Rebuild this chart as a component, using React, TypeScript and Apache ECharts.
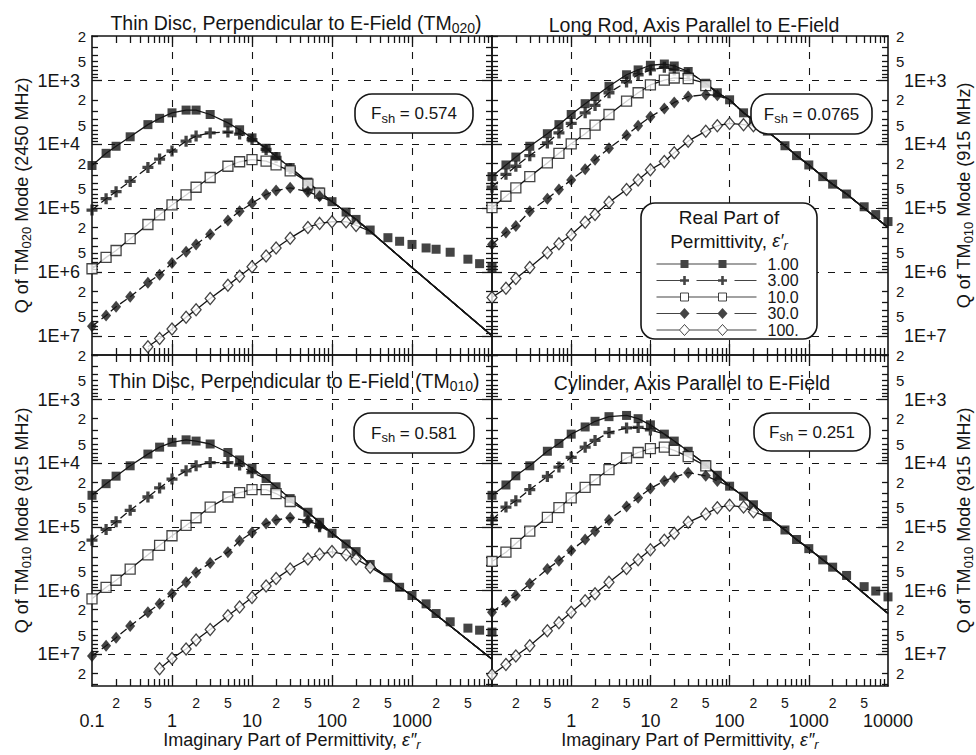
import { useEffect, useRef } from "react";
import * as echarts from "echarts";

const N = null;

// Imaginary part of permittivity (x values of the markers)
const epsImag = [0.1, 0.15, 0.2, 0.3, 0.5, 0.7, 1, 1.5, 2, 3, 5, 7, 10, 15, 20, 30, 50, 70, 100, 150, 200, 300, 500, 700, 1000, 1500, 2000, 3000, 5000, 7000, 10000];
const realPermittivity = ["1.00", "3.00", "10.0", "30.0", "100."];

// ---- Thin disc TM020 (top-left) ----
const tlQ1 = [2.14e4, 1.38e4, 1.07e4, 7.6e3, 4.9e3, 3.9e3, 3.2e3, 2.9e3, 2.9e3, 3.4e3, 4.6e3, 5.9e3, 7.9e3, 1.15e4, 1.55e4, 2.3e4, 3.9e4, 5.6e4, 7.9e4, 1.15e5, 1.5e5, 2.2e5, 2.9e5, 3.3e5, 3.7e5, 4.2e5, 4.4e5, 4.9e5, 6.3e5, 7.4e5, 8.5e5];
const tlQ3 = [1.07e5, 7.1e4, 5.5e4, 3.8e4, 2.3e4, 1.7e4, 1.27e4, 8.9e3, 7.4e3, 6.6e3, 6.4e3, 6.9e3, 8.4e3, 1.2e4, 1.6e4, 2.4e4, 5.0e4, 6.2e4];
const tlQ10 = [8.9e5, 5.9e5, 4.6e5, 3.0e5, 1.8e5, 1.27e5, 8.9e4, 6.2e4, 4.7e4, 3.3e4, 2.2e4, 1.87e4, 1.73e4, 1.83e4, 2.1e4, 2.6e4, 4.2e4, 5.8e4];
const tlQ30 = [7.1e6, 4.8e6, 3.5e6, 2.45e6, 1.47e6, 1.1e6, 7.2e5, 4.8e5, 3.7e5, 2.55e5, 1.56e5, 1.12e5, 8.4e4, 6.1e4, 5.3e4, 4.8e4, 5.5e4, 6.5e4];
const tlQ100 = [N, N, N, N, 1.48e7, 1.1e7, 7.8e6, 5.1e6, 3.9e6, 2.6e6, 1.62e6, 1.17e6, 8.3e5, 5.6e5, 4.2e5, 2.95e5, 2.0e5, 1.73e5, 1.63e5, 1.63e5, 1.86e5];
const tlTheory = [N, N, N, N, N, N, N, N, N, N, N, N, N, 1.15e4, 1.55e4, 2.3e4, 3.9e4, 5.6e4, 7.9e4, 1.15e5, 1.5e5, 2.3e5, N, N, 8.5e5, N, N, N, N, N, 1.0e7];
const tlOwnUntil = [20, 12, 15, 17, 20];

// ---- Long rod (top-right) ----
const trQ1 = [3.2e4, 2.1e4, 1.58e4, 1.07e4, 6.8e3, 4.9e3, 3.4e3, 2.3e3, 1.78e3, 1.23e3, 810, 680, 575, 550, 590, 720, 1.1e3, 1.55e3, 2.0e3, 3.2e3, 4.2e3, 6.2e3, 1.05e4, 1.5e4, 2.1e4, 3.2e4, 4.2e4, 6.0e4, 9.5e4, 1.26e5, 1.62e5];
const trQ3 = [4.7e4, 2.95e4, 2.2e4, 1.5e4, 9.5e3, 6.6e3, 4.7e3, 3.2e3, 2.45e3, 1.55e3, 1.05e3, 810, 680, 620, 680, 790];
const trQ10 = [9.8e4, 6.5e4, 4.8e4, 3.2e4, 1.95e4, 1.38e4, 9.8e3, 6.8e3, 5.0e3, 3.4e3, 2.1e3, 1.55e3, 1.17e3, 980, 910, 930, 1.2e3];
const trQ30 = [3.7e5, 2.4e5, 1.9e5, 1.12e5, 7.1e4, 5.1e4, 3.6e4, 2.45e4, 1.74e4, 1.15e4, 7.2e3, 5.1e3, 3.7e3, 2.75e3, 2.2e3, 1.78e3, 1.66e3, 1.7e3];
const trQ100 = [2.5e6, 1.8e6, 1.26e6, 8.5e5, 5.0e5, 3.6e5, 2.6e5, 1.66e5, 1.26e5, 8.1e4, 5.1e4, 3.6e4, 2.5e4, 1.86e4, 1.35e4, 8.9e3, 6.2e3, 5.1e3, 4.7e3, 4.9e3, 5.1e3];
const trTheory = [N, N, N, N, N, N, N, N, N, N, N, N, N, N, N, 720, 1.1e3, 1.55e3, 2.0e3, 3.2e3, 4.2e3, 6.2e3, 1.05e4, 1.5e4, 2.1e4, 3.2e4, 4.2e4, 6.0e4, N, N, 2.0e5];
const trOwnUntil = [27, 14, 15, 17, 20];

// ---- Thin disc TM010 (bottom-left) ----
const blQ1 = [3.2e4, 2.1e4, 1.6e4, 1.1e4, 7.2e3, 5.6e3, 4.7e3, 4.3e3, 4.5e3, 5.0e3, 6.8e3, 8.9e3, 1.2e4, 1.74e4, 2.35e4, 3.6e4, 5.9e4, 8.5e4, 1.26e5, 1.86e5, 2.45e5, 3.9e5, 6.3e5, 8.9e5, 1.2e6, 1.62e6, 2.3e6, 3.1e6, 3.9e6, 4.2e6, 4.5e6];
const blQ3 = [1.62e5, 1.1e5, 8.3e4, 5.5e4, 3.4e4, 2.45e4, 1.78e4, 1.32e4, 1.1e4, 9.8e3, 9.8e3, 1.07e4, 1.41e4, N, N, N, 8.3e4, 1.0e5];
const blQ10 = [1.35e6, 8.9e5, 6.9e5, 4.6e5, 2.75e5, 1.95e5, 1.38e5, 9.5e4, 7.2e4, 4.9e4, 3.4e4, 2.9e4, 2.6e4, 2.6e4, 3.0e4, 4.0e4];
const blQ30 = [1.07e7, 7.4e6, 5.5e6, 3.6e6, 2.2e6, 1.62e6, 1.12e6, 7.4e5, 5.2e5, 3.7e5, 2.5e5, 1.66e5, 1.23e5, 8.9e4, 7.8e4, 7.2e4, 8.0e4, 9.5e4];
const blQ100 = [N, N, N, N, N, 1.7e7, 1.17e7, 8.3e6, 6.0e6, 4.1e6, 2.5e6, 1.82e6, 1.29e6, 8.5e5, 6.5e5, 4.6e5, 3.2e5, 2.7e5, 2.45e5, 2.75e5, 3.2e5, 4.3e5];
const blTheory = [N, N, N, N, N, N, N, N, N, N, N, N, N, 1.74e4, 2.35e4, 3.6e4, 5.9e4, 8.5e4, 1.26e5, 1.86e5, 2.45e5, 3.9e5, 6.3e5, 8.9e5, 1.2e6, N, N, N, N, N, 1.2e7];
const blOwnUntil = [24, 12, 15, 17, 21];

// ---- Cylinder (bottom-right) ----
const brQ1 = [3.2e4, 2.2e4, 1.58e4, 1.1e4, 6.5e3, 4.9e3, 3.5e3, 2.7e3, 2.2e3, 1.86e3, 1.78e3, 2.0e3, 2.5e3, 3.5e3, 4.5e3, 6.5e3, 1.05e4, 1.55e4, 2.3e4, 3.3e4, 4.5e4, 6.9e4, 1.12e5, 1.58e5, 2.2e5, 3.3e5, 4.3e5, 5.8e5, 8.7e5, 1.02e6, 1.26e6];
const brQ3 = [7.8e4, 4.9e4, 3.9e4, 2.6e4, 1.62e4, 1.15e4, 8.1e3, 5.6e3, 4.4e3, 3.3e3, 2.8e3, 2.75e3, 3.0e3];
const brQ10 = [3.5e5, 2.5e5, 1.82e5, 1.17e5, 7.1e4, 5.0e4, 3.5e4, 2.4e4, 1.82e4, 1.26e4, 8.3e3, 6.8e3, 5.9e3, 5.6e3, 6.3e3, 7.9e3, 1.1e4];
const brQ30 = [2.2e6, 1.5e6, 1.2e6, 7.8e5, 4.6e5, 3.4e5, 2.35e5, 1.58e5, 1.17e5, 7.8e4, 4.8e4, 3.5e4, 2.5e4, 1.9e4, 1.66e4, 1.41e4, 1.58e4, 1.9e4];
const brQ100 = [2.1e7, 1.45e7, 1.07e7, 7.4e6, 4.3e6, 3.2e6, 2.2e6, 1.45e6, 1.12e6, 7.4e5, 4.5e5, 3.3e5, 2.3e5, 1.62e5, 1.26e5, 8.5e4, 6.3e4, 5.0e4, 4.6e4, 4.9e4, 5.8e4];
const brTheory = [N, N, N, N, N, N, N, N, N, N, N, N, N, 3.5e3, 4.5e3, 6.5e3, 1.05e4, 1.55e4, 2.3e4, 3.3e4, 4.5e4, 6.9e4, 1.12e5, 1.58e5, 2.2e5, 3.3e5, 4.3e5, N, N, N, 2.3e6];
const brOwnUntil = [26, 12, 16, 17, 20];

// texts
const panelTitles = [
  { text: "Thin Disc, Perpendicular to E-Field (TM", sub: "020", tail: ")" },
  { text: "Long Rod, Axis Parallel to E-Field", sub: "", tail: "" },
  { text: "Thin Disc, Perpendicular to E-Field (TM", sub: "010", tail: ")" },
  { text: "Cylinder, Axis Parallel to E-Field", sub: "", tail: "" },
];
const shapeFactors = ["0.574", "0.0765", "0.581", "0.251"];
const yNames = [
  { mode: "020", freq: "2450 MHz" },
  { mode: "010", freq: "915 MHz" },
  { mode: "010", freq: "915 MHz" },
  { mode: "010", freq: "915 MHz" },
];
const xName = "Imaginary Part of Permittivity, ";
const legendTitle = ["Real Part of", "Permittivity, "];

// tick definitions (decade exponents and multipliers)
const xExponents = [-1, 0, 1, 2, 3, 4];
const yExponents = [2, 3, 4, 5, 6, 7];
const minorMultipliers = [2, 3, 4, 5, 6, 7, 8, 9];
const labelMultipliers = [2, 5];

const INK = "#151515";
const FONT = '"Liberation Sans", Arial, Helvetica, sans-serif';

const panels = [
  { markers: [tlQ1, tlQ3, tlQ10, tlQ30, tlQ100], theory: tlTheory, own: tlOwnUntil },
  { markers: [trQ1, trQ3, trQ10, trQ30, trQ100], theory: trTheory, own: trOwnUntil },
  { markers: [blQ1, blQ3, blQ10, blQ30, blQ100], theory: blTheory, own: blOwnUntil },
  { markers: [brQ1, brQ3, brQ10, brQ30, brQ100], theory: brTheory, own: brOwnUntil },
];

const gridRects = [
  { left: 92, top: 36, width: 400, height: 319 },
  { left: 492, top: 36, width: 400, height: 319 },
  { left: 92, top: 355, width: 400, height: 331 },
  { left: 492, top: 355, width: 400, height: 331 },
];
const LOG2 = Math.log10(2);
const yMinAll = 2 + LOG2;
const yMaxTop = 7 + LOG2;
const yMaxBottom = 7.5;

const markerStyles: any[] = [
  { symbol: "rect", symbolSize: 9, itemStyle: { color: INK, borderWidth: 0 } },
  { symbol: "path://M3.5 0H6.5V3.5H10V6.5H6.5V10H3.5V6.5H0V3.5H3.5Z", symbolSize: 11, itemStyle: { color: INK, borderWidth: 0 } },
  { symbol: "rect", symbolSize: 10, itemStyle: { color: "#fff", borderColor: INK, borderWidth: 1.3 } },
  { symbol: "diamond", symbolSize: [10, 12], itemStyle: { color: INK, borderWidth: 0 } },
  { symbol: "diamond", symbolSize: [10, 12], itemStyle: { color: "#fff", borderColor: INK, borderWidth: 1.3 } },
];

const legendIcons = [
  "path://M0 0L0 0M0 5.5H100V6.5H0ZM24 2H32V10H24ZM62 2H70V10H62ZM100 12L100 12",
  "path://M0 0L0 0M0 5.5H28V6.5H0ZM40 5.5H66V6.5H40ZM78 5.5H100V6.5H78ZM26.7 1.5H29.3V4.7H32.5V7.3H29.3V10.5H26.7V7.3H23.5V4.7H26.7ZM64.7 1.5H67.3V4.7H70.5V7.3H67.3V10.5H64.7V7.3H61.5V4.7H64.7ZM100 12L100 12",
  "path://M0 0L0 0M0 6H24M32 6H62M70 6H100M24 2H32V10H24ZM62 2H70V10H62ZM100 12L100 12",
  "path://M0 0L0 0M0 5.5H28V6.5H0ZM40 5.5H66V6.5H40ZM78 5.5H100V6.5H78ZM28 0.5L33 6L28 11.5L23 6ZM66 0.5L71 6L66 11.5L61 6ZM100 12L100 12",
  "path://M0 0L0 0M0 6H23M33 6H61M71 6H100M28 0.5L33 6L28 11.5L23 6ZM66 0.5L71 6L66 11.5L61 6ZM100 12L100 12",
];

const richText: any = {
  a: { fontSize: 18, lineHeight: 22, fontFamily: FONT, color: INK },
  t: { fontSize: 19.5, lineHeight: 24, fontFamily: FONT, color: INK },
  s: { fontSize: 13, lineHeight: 12, verticalAlign: "bottom", fontFamily: FONT, color: INK },
  ts: { fontSize: 14, lineHeight: 12, verticalAlign: "bottom", fontFamily: FONT, color: INK },
  e: { fontSize: 18, lineHeight: 22, fontFamily: FONT, color: INK, fontStyle: "italic" },
  r: { fontSize: 13, lineHeight: 12, verticalAlign: "bottom", fontFamily: FONT, color: INK, fontStyle: "italic" },
  f: { fontSize: 17, lineHeight: 22, fontFamily: FONT, color: INK },
  l: { fontSize: 19, lineHeight: 22, fontFamily: FONT, color: INK },
};

function toPoints(arr: (number | null)[]) {
  const out: number[][] = [];
  arr.forEach((q, i) => {
    if (q != null) out.push([Math.log10(epsImag[i]), Math.log10(q)]);
  });
  return out;
}

function theoryLine(markers: (number | null)[], theory: (number | null)[], ownUntil: number) {
  const out: number[][] = [];
  epsImag.forEach((e, i) => {
    const q = i <= ownUntil ? markers[i] : theory[i];
    if (q != null && q !== undefined) out.push([Math.log10(e), Math.log10(q)]);
  });
  return out;
}

const minorX = xExponents.slice(0, -1).flatMap((e) => minorMultipliers.map((m) => e + Math.log10(m)));
const minorXLabels = xExponents.slice(0, -1).flatMap((e) => labelMultipliers.map((m) => e + Math.log10(m)));
const majorXInner = xExponents.slice(1, -1);

function yMinorVals(yMax: number, mults: number[], skipTop: boolean) {
  return yExponents
    .flatMap((e) => mults.map((m) => e + Math.log10(m)))
    .filter((v) => v >= yMinAll - 1e-9 && v <= yMax + 1e-9)
    .filter((v) => !(skipTop && Math.abs(v - yMinAll) < 1e-9));
}

const fmtXMajor = (v: number) => {
  const r = Math.round(v);
  return r < 0 ? "0.1" : String(Math.pow(10, r));
};
const fmtMinor = (v: number) => String(Math.round(Math.pow(10, v - Math.floor(v + 1e-9))));
const fmtYMajor = (v: number) => "1E+" + Math.round(v);

function buildOption() {
  const xAxes: any[] = [];
  const yAxes: any[] = [];
  const grids: any[] = [];
  const series: any[] = [];

  gridRects.forEach((rect, g) => {
    const isBottom = g >= 2;
    const isLeft = g % 2 === 0;
    const yMax = isBottom ? yMaxBottom : yMaxTop;
    grids.push({ ...rect, containLabel: false });
    const lineCommon = { show: true, onZero: false, lineStyle: { color: INK, width: 1.6 } };
    const noLine = { show: false, onZero: false };
    const base = { type: "value", gridIndex: g, min: -1, max: 4 };
    xAxes.push({
      ...base,
      position: "bottom",
      axisLine: lineCommon,
      axisTick: { show: true, inside: true, length: 11, customValues: majorXInner, lineStyle: { color: INK, width: 1.3 } },
      splitLine: { show: true, lineStyle: { color: INK, width: 1.1, type: [7, 9] } },
      axisLabel: isBottom
        ? { show: true, customValues: isLeft ? xExponents.slice(0, -1) : xExponents.slice(1), formatter: fmtXMajor, margin: 26, fontSize: 18, lineHeight: 18, fontFamily: FONT, color: INK, showMinLabel: true, showMaxLabel: true }
        : { show: false },
      name: isBottom ? `{a|${xName}}{e|ε″}{r|r}` : "",
      nameLocation: "middle",
      nameGap: 41,
      nameTextStyle: { rich: richText },
    });
    xAxes.push({
      ...base,
      position: "bottom",
      axisLine: noLine,
      axisTick: { show: true, inside: true, length: 7, customValues: minorX, lineStyle: { color: INK, width: 1.3 } },
      splitLine: { show: false },
      axisLabel: isBottom
        ? { show: true, customValues: minorXLabels, formatter: fmtMinor, margin: 9, fontSize: 14, lineHeight: 15, fontFamily: FONT, color: INK, showMinLabel: true, showMaxLabel: true }
        : { show: false },
    });
    xAxes.push({
      ...base,
      position: "top",
      axisLine: lineCommon,
      axisTick: { show: true, inside: true, length: 11, customValues: majorXInner, lineStyle: { color: INK, width: 1.3 } },
      splitLine: { show: false },
      axisLabel: { show: false },
    });
    xAxes.push({
      ...base,
      position: "top",
      axisLine: noLine,
      axisTick: { show: true, inside: true, length: 7, customValues: minorX, lineStyle: { color: INK, width: 1.3 } },
      splitLine: { show: false },
      axisLabel: { show: false },
    });

    const ybase = { type: "value", gridIndex: g, min: yMinAll, max: yMax, inverse: true };
    const majorY = [3, 4, 5, 6, 7];
    const minorY = yMinorVals(yMax, minorMultipliers, false);
    const minorYLabels = yMinorVals(yMax, labelMultipliers, isBottom);
    const yName = `{a|Q of TM}{s|${yNames[g].mode}}{a| Mode (${yNames[g].freq})}`;
    yAxes.push({
      ...ybase,
      position: "left",
      axisLine: lineCommon,
      axisTick: { show: true, inside: true, length: 10, customValues: majorY, lineStyle: { color: INK, width: 1.3 } },
      splitLine: { show: true, lineStyle: { color: INK, width: 1.1, type: [7, 9] } },
      axisLabel: isLeft
        ? { show: true, customValues: majorY, formatter: fmtYMajor, margin: 12, fontSize: 18, fontFamily: FONT, color: INK }
        : { show: false },
      name: isLeft ? yName : "",
      nameLocation: "middle",
      nameGap: 59,
      nameTextStyle: { rich: richText },
    });
    yAxes.push({
      ...ybase,
      position: "left",
      axisLine: noLine,
      axisTick: { show: true, inside: true, length: 6, customValues: minorY, lineStyle: { color: INK, width: 1.3 } },
      splitLine: { show: false },
      axisLabel: isLeft
        ? { show: true, customValues: minorYLabels, formatter: fmtMinor, margin: 6, fontSize: 15, fontFamily: FONT, color: INK, showMinLabel: true, showMaxLabel: true }
        : { show: false },
    });
    yAxes.push({
      ...ybase,
      position: "right",
      axisLine: lineCommon,
      axisTick: { show: true, inside: true, length: 10, customValues: majorY, lineStyle: { color: INK, width: 1.3 } },
      splitLine: { show: false },
      axisLabel: !isLeft
        ? { show: true, customValues: majorY, formatter: fmtYMajor, margin: 16, fontSize: 18, fontFamily: FONT, color: INK }
        : { show: false },
      name: !isLeft ? yName : "",
      nameLocation: "middle",
      nameGap: 65,
      nameTextStyle: { rich: richText },
    });
    yAxes.push({
      ...ybase,
      position: "right",
      axisLine: noLine,
      axisTick: { show: true, inside: true, length: 6, customValues: minorY, lineStyle: { color: INK, width: 1.3 } },
      splitLine: { show: false },
      axisLabel: !isLeft
        ? { show: true, customValues: minorYLabels, formatter: fmtMinor, margin: 8, fontSize: 15, fontFamily: FONT, color: INK, showMinLabel: true, showMaxLabel: true }
        : { show: false },
    });
  });

  panels.forEach((p, g) => {
    p.markers.forEach((arr, i) => {
      series.push({
        type: "scatter",
        name: realPermittivity[i],
        xAxisIndex: 4 * g,
        yAxisIndex: 4 * g,
        data: toPoints(arr),
        symbol: markerStyles[i].symbol,
        symbolSize: markerStyles[i].symbolSize,
        itemStyle: markerStyles[i].itemStyle,
        color: INK,
        z: 4,
        silent: true,
      });
    });
    p.markers.forEach((arr, i) => {
      series.push({
        type: "line",
        name: realPermittivity[i],
        xAxisIndex: 4 * g,
        yAxisIndex: 4 * g,
        data: theoryLine(arr, p.theory, p.own[i]),
        showSymbol: false,
        symbol: "none",
        color: INK,
        lineStyle: { color: INK, width: 1.3, type: i === 1 || i === 3 ? [8, 4] : "solid" },
        z: 3,
        silent: true,
      });
    });
  });

  const titlePos = [
    { x: 296, y: 23 },
    { x: 694, y: 25 },
    { x: 294, y: 381 },
    { x: 692, y: 383 },
  ];
  const fshBoxes = [
    { x: 355, y: 94, w: 118, h: 39 },
    { x: 751, y: 94, w: 121, h: 40 },
    { x: 354, y: 413, w: 120, h: 40 },
    { x: 754, y: 413, w: 116, h: 38 },
  ];
  const graphic: any[] = [];
  panelTitles.forEach((t, g) => {
    const txt = t.sub ? `{t|${t.text}}{ts|${t.sub}}{t|${t.tail}}` : `{t|${t.text}}`;
    graphic.push({
      type: "text",
      x: titlePos[g].x,
      y: titlePos[g].y,
      z: 11,
      style: { text: txt, rich: richText, align: "center", verticalAlign: "middle", fill: INK },
    });
  });
  shapeFactors.forEach((f, g) => {
    const b = fshBoxes[g];
    graphic.push({
      type: "rect",
      z: 10,
      shape: { x: b.x, y: b.y, width: b.w, height: b.h, r: 17 },
      style: { fill: "#fff", stroke: INK, lineWidth: 1.6 },
    });
    graphic.push({
      type: "text",
      z: 11,
      x: b.x + b.w / 2,
      y: b.y + b.h / 2,
      style: { text: `{f|F}{s|sh}{f| = ${f}}`, rich: richText, align: "center", verticalAlign: "middle", fill: INK },
    });
  });
  graphic.push({
    type: "rect",
    z: 10,
    shape: { x: 641, y: 203, width: 176, height: 136, r: 14 },
    style: { fill: "#fff", stroke: INK, lineWidth: 1.6 },
  });
  graphic.push({
    type: "text",
    z: 11,
    x: 729,
    y: 217,
    style: { text: `{l|${legendTitle[0]}}`, rich: richText, align: "center", verticalAlign: "middle", fill: INK },
  });
  graphic.push({
    type: "text",
    z: 11,
    x: 729,
    y: 241,
    style: { text: `{l|${legendTitle[1]}}{e|ε′}{r|r}`, rich: richText, align: "center", verticalAlign: "middle", fill: INK },
  });

  return {
    animation: false,
    backgroundColor: "#ffffff",
    grid: grids,
    xAxis: xAxes,
    yAxis: yAxes,
    series,
    graphic,
    legend: {
      show: true,
      orient: "vertical",
      left: 656,
      top: 256,
      padding: 0,
      itemGap: 0.5,
      itemWidth: 100,
      itemHeight: 12,
      selectedMode: false,
      z: 12,
      textStyle: { fontSize: 16, lineHeight: 15, fontFamily: FONT, color: INK, padding: [0, 0, 0, 6] },
      data: realPermittivity.map((n, i) => ({
        name: n,
        icon: legendIcons[i],
        itemStyle:
          i === 2 || i === 4
            ? { color: "#ffffff", borderColor: INK, borderWidth: 1 }
            : { color: INK, borderColor: INK, borderWidth: 0 },
      })),
    },
  };
}

export default function App() {
  const ref = useRef<HTMLDivElement>(null);
  useEffect(() => {
    document.body.style.margin = "0";
    if (!ref.current) return;
    const chart = echarts.init(ref.current, undefined, { renderer: "svg" });
    chart.setOption(buildOption() as any);
    return () => chart.dispose();
  }, []);
  return <div ref={ref} style={{ width: 976, height: 755 }} />;
}
